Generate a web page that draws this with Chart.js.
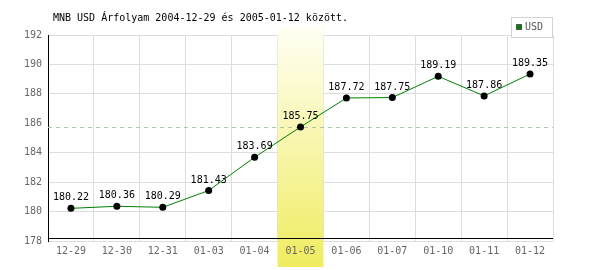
<!DOCTYPE html>
<html>
<head>
<meta charset="utf-8">
<script src="https://cdn.jsdelivr.net/npm/chart.js@4.4.0/dist/chart.umd.min.js"></script>
<style>
  html, body { margin: 0; padding: 0; background: #fff; }
  canvas { display: block; }
</style>
</head>
<body>
<canvas id="chart" width="600" height="270"></canvas>
<script>
// ===== Data =====
const days = ["12-29","12-30","12-31","01-03","01-04","01-05","01-06","01-07","01-10","01-11","01-12"];
const usdRates = [180.22,180.36,180.29,181.43,183.69,185.75,187.72,187.75,189.19,187.86,189.35];
const yTicks = [178,180,182,184,186,188,190,192];
const selectedIndex = 5;
const titleText = "MNB USD Árfolyam 2004-12-29 és 2005-01-12 között.";
const legendText = "USD";

const mono = "'DejaVu Sans Mono', monospace";

// ===== Extra drawing =====
const decorations = {
  id: "decorations",
  beforeDatasetsDraw(chart) {
    const { ctx, scales: { x, y }, chartArea } = chart;
    const half = (x.getPixelForValue(1) - x.getPixelForValue(0)) / 2;
    const cx = x.getPixelForValue(selectedIndex);

    // highlighted day
    const g = ctx.createLinearGradient(0, 27, 0, 267);
    g.addColorStop(0, "#fffff4");
    g.addColorStop(1, "#f0ec60");
    ctx.save();
    ctx.fillStyle = g;
    ctx.fillRect(cx - half, 27, half * 2, 240);

    // dashed line at selected value
    const yy = Math.round(y.getPixelForValue(usdRates[selectedIndex])) + 0.5;
    ctx.strokeStyle = "#a8c8a8";
    ctx.lineWidth = 1;
    ctx.setLineDash([4, 4]);
    ctx.beginPath();
    ctx.moveTo(chartArea.left, yy);
    ctx.lineTo(chartArea.right, yy);
    ctx.stroke();
    ctx.restore();
  },
  afterDatasetsDraw(chart) {
    const { ctx, chartArea } = chart;
    const meta = chart.getDatasetMeta(0);
    ctx.save();
    ctx.font = "10px " + mono;
    ctx.fillStyle = "#000";
    ctx.textAlign = "center";
    ctx.textBaseline = "alphabetic";
    meta.data.forEach((pt, i) => {
      ctx.fillText(usdRates[i].toFixed(2), pt.x, pt.y - 8);
    });

    // x axis line
    ctx.strokeStyle = "#000";
    ctx.lineWidth = 1;
    ctx.beginPath();
    ctx.moveTo(chartArea.left, 238.5);
    ctx.lineTo(chartArea.right, 238.5);
    ctx.stroke();
    ctx.restore();
  },
  afterDraw(chart) {
    const { ctx } = chart;
    ctx.save();
    // title
    ctx.font = "10px " + mono;
    ctx.fillStyle = "#000";
    ctx.textAlign = "left";
    ctx.textBaseline = "middle";
    ctx.fillText(titleText, 53, 18);

    // legend
    ctx.fillStyle = "#fff";
    ctx.fillRect(511, 17, 42, 20);
    ctx.strokeStyle = "#d4d4d4";
    ctx.lineWidth = 1;
    ctx.strokeRect(511.5, 17.5, 41, 20);
    ctx.fillStyle = "#008000";
    ctx.fillRect(516, 24, 6, 6);
    ctx.strokeStyle = "#555";
    ctx.strokeRect(516.5, 24.5, 5, 5);
    ctx.fillStyle = "#555";
    ctx.fillText(legendText, 525, 27.5);
    ctx.restore();
  }
};

// ===== Chart =====
new Chart(document.getElementById("chart"), {
  type: "line",
  data: {
    labels: days,
    datasets: [{
      label: legendText,
      data: usdRates,
      borderColor: "#008000",
      borderWidth: 1,
      tension: 0,
      pointRadius: 3.5,
      pointBackgroundColor: "#000",
      pointBorderColor: "#000",
      pointBorderWidth: 0
    }]
  },
  options: {
    responsive: false,
    animation: false,
    events: [],
    layout: { padding: { top: 35, right: 47, left: 0, bottom: 0 } },
    plugins: {
      legend: { display: false },
      title: { display: false },
      tooltip: { enabled: false }
    },
    scales: {
      x: {
        offset: true,
        grid: { offset: true, color: "#dddddd", drawTicks: false },
        border: { display: false },
        ticks: { z: 1, color: "#666", font: { family: mono, size: 10 }, padding: 4, maxRotation: 0, autoSkip: false },
        afterFit(s) { s.height = 29; }
      },
      y: {
        min: 178,
        max: 192,
        afterBuildTicks(s) { s.ticks = yTicks.map(v => ({ value: v })); },
        grid: {
          color: c => (c.tick && c.tick.value === 186) ? "rgba(0,0,0,0)" : "#dddddd",
          drawTicks: false
        },
        border: { color: "#000" },
        ticks: { color: "#666", font: { family: mono, size: 10 }, padding: 6 },
        afterFit(s) { s.width = 48; }
      }
    }
  },
  plugins: [decorations]
});
</script>
</body>
</html>
